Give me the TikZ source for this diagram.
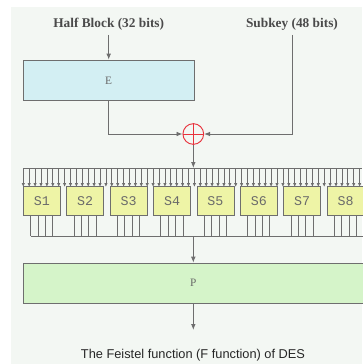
\documentclass[tikz,border=0pt]{standalone}
\usepackage{fontspec}
\setmainfont{Liberation Serif}
\setsansfont{Liberation Sans}
\setmonofont{Liberation Mono}
\usepackage{xcolor}
\definecolor{paper}{HTML}{F3F7F3}
\definecolor{linegray}{HTML}{6E6E6E}
\definecolor{ink}{HTML}{4A4A4A}
\definecolor{softink}{HTML}{6A6A6A}
\definecolor{cyanfill}{HTML}{D3EFF3}
\definecolor{limefill}{HTML}{EEF4A6}
\definecolor{greenfill}{HTML}{D5F4C9}
\definecolor{xorred}{HTML}{E8323C}
\usepackage{tikz}
\usetikzlibrary{arrows.meta,positioning}

\begin{document}
\begin{tikzpicture}[
    x=0.75pt, y=-0.75pt,
    >=Latex,
    every node/.style={align=center, text=ink},
    head_text/.style={font=\bfseries\fontsize{10}{12}\selectfont},
    e_box/.style={draw=linegray, fill=cyanfill, minimum width=128pt, minimum height=30.5pt, inner sep=0pt, text=softink, font=\fontsize{8.5}{10}\selectfont},
    s_box/.style={draw=linegray, fill=limefill, minimum width=27.75pt, minimum height=21.4pt, inner sep=0pt, text=softink, font=\ttfamily\fontsize{10}{12}\selectfont},
    p_box/.style={draw=linegray, fill=greenfill, minimum width=255pt, minimum height=30pt, inner sep=0pt, text=softink, font=\fontsize{8.5}{10}\selectfont},
    xor_node/.style={circle, draw=xorred, line width=0.7pt, minimum size=15.5pt, inner sep=0pt},
    data_flow/.style={-{Latex[length=4.5pt,width=3.5pt]}, linegray, line width=0.7pt},
    bit_flow/.style={-{Latex[length=3pt,width=2.6pt]}, linegray, line width=0.6pt},
    bus_line/.style={linegray, line width=0.7pt}
]

  % Canvas
  \useasboundingbox (0,0) rectangle (362,364);
  \fill[paper] (11,7) rectangle (362,364);

  % Inputs and expansion
  \node[head_text] (half_block) at (108.7,24) {Half Block (32 bits)};
  \node[head_text] (subkey) at (292,24) {Subkey (48 bits)};
  \node[e_box] (e_box) at (108.7,80.3) {E};
  \node[xor_node] (xor) at (193.3,134) {};
  \draw[xorred, line width=0.7pt] (xor.north) -- (xor.south) (xor.west) -- (xor.east);

  \draw[data_flow] (half_block) -- (e_box);
  \draw[data_flow] (e_box.south) |- (xor.west);
  \draw[data_flow] (subkey.south) |- (xor.east);

  % S-boxes
  \coordinate (bus_in) at (193.3,168);
  \draw[data_flow] (xor) -- (bus_in);
  \draw[bus_line] (23.3,168) -- (362,168);
  \foreach \k in {0,...,57}
    \draw[bit_flow] ({23.3+5.9*\k},168) -- ({23.3+5.9*\k},187);

  \foreach \i in {1,...,8}
    \node[s_box] (s\i) at ({41.8+43.4*(\i-1)},200.75) {S\i};

  \coordinate (bus_out) at (193.3,236);
  \foreach \i in {1,...,8}
    \foreach \d in {-11.1,-3.7,3.7,11.1}
      \draw[bus_line] ([xshift=\d*0.75pt]s\i.south) -- ++(0,21);
  \draw[bus_line] (30.7,236) -- (363,236);

  % Permutation
  \node[p_box] (p_box) at (193.3,283) {P};
  \draw[data_flow] (bus_out) -- (p_box);
  \coordinate (f_out) at (193.3,330);
  \draw[data_flow] (p_box) -- (f_out);

  \node[font=\sffamily\fontsize{9.6}{11}\selectfont, text=black!85] (caption) at (193,355) {The Feistel function (F function) of DES};

\end{tikzpicture}
\end{document}
